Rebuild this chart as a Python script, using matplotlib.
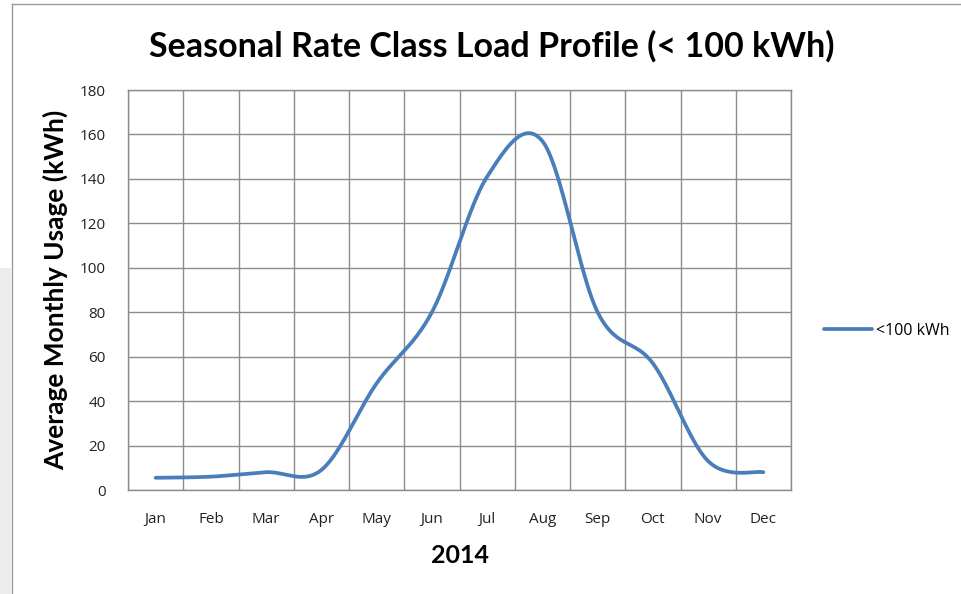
import numpy as np
import matplotlib
matplotlib.use("Agg")
import matplotlib.pyplot as plt
from matplotlib.patches import Rectangle
from matplotlib.lines import Line2D

months = ["Jan", "Feb", "Mar", "Apr", "May", "Jun", "Jul", "Aug", "Sep", "Oct", "Nov", "Dec"]
usage = [5.5, 6, 8, 9, 48, 80, 141, 157, 80, 57, 13, 8]
series_name = "<100 kWh"
title = "Seasonal Rate Class Load Profile (< 100 kWh)"
ylabel = "Average Monthly Usage (kWh)"
xlabel = "2014"
yticks = list(range(0, 181, 20))


def catmull_rom(x, y, n=40):
    x = np.asarray(x, float)
    y = np.asarray(y, float)
    px = np.concatenate([[x[0]], x, [x[-1]]])
    py = np.concatenate([[y[0]], y, [y[-1]]])
    xs, ys = [], []
    t = np.linspace(0, 1, n)
    for i in range(1, len(px) - 2):
        p0, p1, p2, p3 = (np.array([px[j], py[j]]) for j in range(i - 1, i + 3))
        c1 = p1 + (p2 - p0) / 6
        c2 = p2 - (p3 - p1) / 6
        for tt in t:
            b = ((1 - tt) ** 3) * p1 + 3 * ((1 - tt) ** 2) * tt * c1 + 3 * (1 - tt) * tt ** 2 * c2 + tt ** 3 * p2
            xs.append(b[0])
            ys.append(b[1])
    return np.array(xs), np.array(ys)


W, H = 961, 594
fig = plt.figure(figsize=(W / 100, H / 100), dpi=100)

# chart frame / background bits
fig.patches.append(Rectangle((0, 0), 11 / W, (H - 268) / H, transform=fig.transFigure,
                             facecolor="#ececec", edgecolor="none", zorder=0))
fig.lines.append(Line2D([11.5 / W, 11.5 / W], [0, 1 - 4 / H], transform=fig.transFigure,
                        color="#9a9a9a", lw=1.0))
fig.lines.append(Line2D([11.5 / W, 1], [1 - 4 / H, 1 - 4 / H], transform=fig.transFigure,
                        color="#9a9a9a", lw=1.0))

left, right, top, bottom = 128, 791, 90, 490
ax = fig.add_axes([left / W, 1 - bottom / H, (right - left) / W, (bottom - top) / H])

x = np.arange(len(months))
sx, sy = catmull_rom(x, usage)
ax.plot(sx, sy, color="#4a7ebb", lw=2.7, solid_capstyle="round", label=series_name, zorder=3)

ax.set_xlim(-0.5, len(months) - 0.5)
ax.set_ylim(0, 180)
ax.set_yticks(yticks)
ax.set_xticks(x)
ax.set_xticklabels(months)
ax.set_xticks(np.arange(-0.5, len(months), 1.0), minor=True)
ax.grid(True, which="minor", axis="x", color="#8c8c8c", lw=1.0)
ax.grid(True, which="major", axis="y", color="#8c8c8c", lw=1.0)
ax.set_axisbelow(True)
for s in ax.spines.values():
    s.set_color("#8c8c8c")
    s.set_linewidth(1.0)
ax.tick_params(which="both", length=0)
ax.tick_params(axis="x", pad=16, labelsize=11, labelcolor="#222222")
ax.tick_params(axis="y", pad=16, labelsize=11, labelcolor="#222222")
for lab in ax.get_xticklabels() + ax.get_yticklabels():
    lab.set_family("Open Sans")

ax.set_ylabel(ylabel, fontsize=19, family="Lato", fontweight="bold", labelpad=8)
ax.set_xlabel(xlabel, fontsize=18, family="Lato", fontweight="bold", labelpad=12)

fig.text((148 + 835) / 2 / W, 1 - 46 / H, title, ha="center", va="center",
         fontsize=24.5, family="Lato", fontweight="bold")

leg = ax.legend(loc="center left", bbox_to_anchor=((818 - left) / (right - left), (bottom - 331) / (bottom - top)),
                frameon=False, handlelength=3.0, handletextpad=0.2, borderaxespad=0,
                prop={"family": "Open Sans", "size": 11.5})

fig.savefig("out.png", dpi=100)
